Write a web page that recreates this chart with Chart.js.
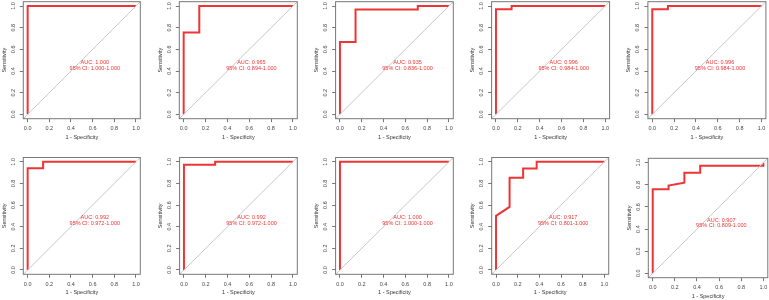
<!DOCTYPE html>
<html>
<head>
<meta charset="utf-8">
<script src="https://cdn.jsdelivr.net/npm/chart.js@4/dist/chart.umd.min.js"></script>
<style>
  body { margin: 0; background: #fff; width: 769px; height: 300px; position: relative; overflow: hidden; }
  canvas { position: absolute; }
</style>
</head>
<body>
<script>
// ROC curve points per panel: 1 - specificity (x) and sensitivity (y)
const fpr = [
  [0, 0, 1],
  [0, 0, 0.143, 0.143, 1],
  [0, 0, 0.143, 0.143, 0.714, 0.714, 1],
  [0, 0, 0.143, 0.143, 1],
  [0, 0, 0.143, 0.143, 1],
  [0, 0, 0.143, 0.143, 1],
  [0, 0, 0.286, 0.286, 1],
  [0, 0, 1],
  [0, 0, 0.125, 0.125, 0.25, 0.25, 0.375, 0.375, 1],
  [0, 0, 0.143, 0.143, 0.286, 0.286, 0.429, 0.429, 1, 1],
];
const tpr = [
  [0, 1, 1],
  [0, 0.755, 0.755, 1, 1],
  [0, 0.667, 0.667, 0.967, 0.967, 1, 1],
  [0, 0.97, 0.97, 1, 1],
  [0, 0.97, 0.97, 1, 1],
  [0, 0.94, 0.94, 1, 1],
  [0, 0.972, 0.972, 1, 1],
  [0, 1, 1],
  [0, 0.5, 0.583, 0.852, 0.852, 0.938, 0.938, 1, 1],
  [0, 0.76, 0.76, 0.793, 0.82, 0.91, 0.91, 0.973, 0.973, 1],
];
const aucLabels = ["AUC: 1.000", "AUC: 0.965", "AUC: 0.935", "AUC: 0.996", "AUC: 0.996",
                   "AUC: 0.992", "AUC: 0.992", "AUC: 1.000", "AUC: 0.917", "AUC: 0.907"];
const ciLabels = ["95% CI: 1.000-1.000", "95% CI: 0.894-1.000", "95% CI: 0.836-1.000",
                  "95% CI: 0.984-1.000", "95% CI: 0.984-1.000", "95% CI: 0.972-1.000",
                  "95% CI: 0.972-1.000", "95% CI: 1.000-1.000", "95% CI: 0.801-1.000",
                  "95% CI: 0.809-1.000"];
const tickValues = [0, 0.2, 0.4, 0.6, 0.8, 1];

// where each plot box sits on the page
const boxLeft = [23.3, 179.3, 335.6, 491.6, 647.9, 23.3, 179.6, 335.6, 491.7, 648.3];
const boxTop = [1.7, 1.7, 1.7, 1.7, 1.7, 157.5, 157.5, 157.5, 157.5, 158.3];
const boxWidth = [117, 118, 117.7, 118, 118, 117, 117.7, 117.7, 117, 119.5];
const boxHeight = [117, 117, 117, 117, 117, 116.8, 116.8, 116.8, 116.8, 119.4];

const red = "rgb(238,52,52)";
const font = { family: "'Liberation Sans', Arial, sans-serif", size: 5.5 };

const framePlugin = {
  id: "frame",
  afterDraw(chart) {
    const { ctx, chartArea: a, scales } = chart;
    const i = chart.options.plugins.frame.index;
    ctx.save();
    ctx.strokeStyle = "#777";
    ctx.lineWidth = 1;
    ctx.strokeRect(a.left, a.top, a.right - a.left, a.bottom - a.top);
    ctx.fillStyle = red;
    ctx.font = "5.5px 'Liberation Sans', Arial, sans-serif";
    ctx.textAlign = "center";
    ctx.textBaseline = "middle";
    const tx = scales.x.getPixelForValue(0.62);
    ctx.fillText(aucLabels[i], tx, scales.y.getPixelForValue(0.482));
    ctx.fillText(ciLabels[i], tx, scales.y.getPixelForValue(0.428));
    ctx.restore();
  },
};

for (let i = 0; i < 10; i++) {
  const bl = boxLeft[i], bt = boxTop[i], bw = boxWidth[i], bh = boxHeight[i];
  const cl = Math.floor(bl) - 24, ct = Math.floor(bt) - 8;
  const yw = bl - cl, pt = bt - ct;
  const cw = Math.ceil(yw + bw + 5), ch = Math.ceil(pt + bh + 24);
  const xh = ch - pt - bh;

  const canvas = document.createElement("canvas");
  canvas.width = cw;
  canvas.height = ch;
  canvas.style.left = cl + "px";
  canvas.style.top = ct + "px";
  canvas.style.width = cw + "px";
  canvas.style.height = ch + "px";
  document.body.appendChild(canvas);

  const points = fpr[i].map((x, k) => ({ x: x, y: tpr[i][k] }));

  new Chart(canvas, {
    type: "scatter",
    data: {
      datasets: [
        {
          data: [{ x: -0.04, y: -0.04 }, { x: 1.04, y: 1.04 }],
          showLine: true,
          borderColor: "#c8c8c8",
          borderWidth: 1,
          pointRadius: 0,
        },
        {
          data: points,
          showLine: true,
          borderColor: red,
          borderWidth: 2,
          pointRadius: 0,
        },
      ],
    },
    options: {
      responsive: false,
      animation: false,
      devicePixelRatio: 1,
      layout: { padding: { left: 0, top: pt, right: cw - yw - bw, bottom: 0 } },
      scales: {
        x: {
          type: "linear",
          min: -0.04,
          max: 1.04,
          afterBuildTicks: (s) => { s.ticks = tickValues.map((v) => ({ value: v })); },
          afterFit: (s) => { s.height = xh; },
          border: { display: false },
          grid: { drawOnChartArea: false, tickLength: 3.5, color: "#777" },
          ticks: { autoSkip: false, maxRotation: 0, padding: 3, color: "#444", font: font,
                   callback: (v) => v.toFixed(1) },
          title: { display: true, text: "1 - Specificity", color: "#333", font: font,
                   padding: { top: 0, bottom: xh - 21.8 } },
        },
        y: {
          type: "linear",
          min: -0.04,
          max: 1.04,
          afterBuildTicks: (s) => { s.ticks = tickValues.map((v) => ({ value: v })); },
          afterFit: (s) => { s.width = yw; },
          border: { display: false },
          grid: { drawOnChartArea: false, tickLength: 3.5, color: "#777" },
          ticks: { autoSkip: false, minRotation: 90, maxRotation: 90, crossAlign: "center",
                   padding: 2.7, color: "#444", font: font, callback: (v) => v.toFixed(1) },
          title: { display: true, text: "Sensitivity", color: "#333", font: font,
                   padding: { top: yw - 22.6, bottom: 0 } },
        },
      },
      plugins: {
        legend: { display: false },
        tooltip: { enabled: false },
        frame: { index: i },
      },
    },
    plugins: [framePlugin],
  });
}
</script>
</body>
</html>
